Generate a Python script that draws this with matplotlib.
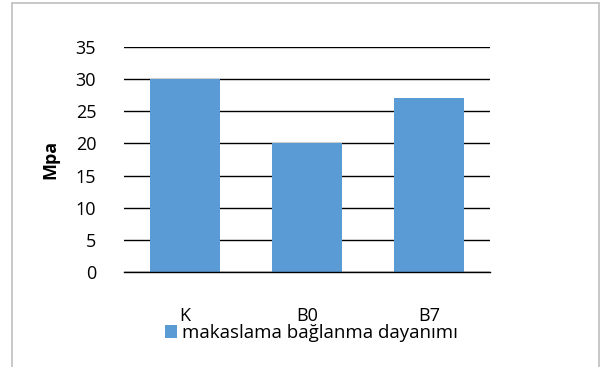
import matplotlib.pyplot as plt
from matplotlib.patches import Rectangle

# data
categories = ["K", "B0", "B7"]
values = [30, 20, 27]
series_name = "makaslama bağlanma dayanımı"
y_ticks = [0, 5, 10, 15, 20, 25, 30, 35]

plt.rcParams['font.family'] = ['Open Sans', 'DejaVu Sans']

fig = plt.figure(figsize=(6, 3.67), dpi=100)
W, H = 600, 367

# chart area border (bottom edge runs past the image)
fig.patches.append(Rectangle((12 / W, -0.05), (599 - 12) / W, 1.05 - 3 / H,
                             transform=fig.transFigure, fill=False,
                             edgecolor='#bfbfbf', linewidth=1.2))

ax = fig.add_axes([124 / W, 1 - 272 / H, (490 - 124) / W, (272 - 47) / H])
x = range(len(categories))
ax.bar(x, values, width=0.574, color='#5b9bd5', zorder=2,
       label=series_name)
ax.set_xlim(-0.5, 2.5)
ax.set_ylim(0, 35)
ax.set_yticks(y_ticks)
ax.set_xticks(list(x))
ax.set_xticklabels(categories)
ax.grid(axis='y', color='black', linewidth=1.0, zorder=1)
ax.set_axisbelow(True)
for s in ax.spines.values():
    s.set_visible(False)
ax.spines['bottom'].set_visible(True)
ax.spines['bottom'].set_color('black')
ax.spines['bottom'].set_linewidth(1.0)
ax.spines['bottom'].set_zorder(3)
ax.tick_params(length=0, labelsize=13)
ax.tick_params(axis='y', pad=20)
ax.tick_params(axis='x', pad=25)
ax.set_ylabel("Mpa", fontsize=13, fontweight='bold', labelpad=12)

fig.legend(loc='center', bbox_to_anchor=(311 / W, 1 - 333 / H),
           frameon=False, fontsize=13.5, handlelength=0.65, handleheight=0.65,
           handletextpad=0.25)

fig.savefig("out.png", dpi=100)
